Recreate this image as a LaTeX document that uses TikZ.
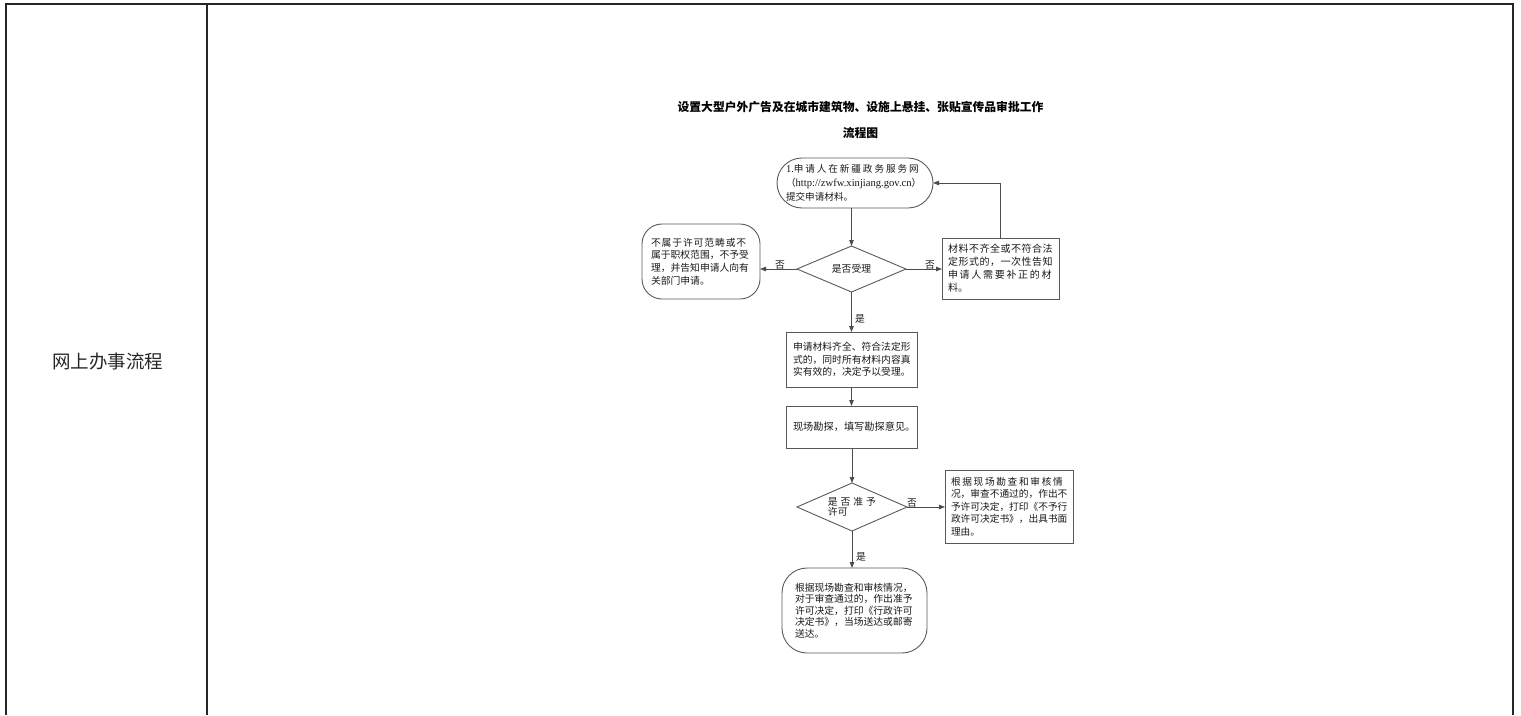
\documentclass[tikz,border=0pt]{standalone}
\usepackage{fontspec}
\setmainfont{Liberation Serif}
\newfontfamily\cjk{Noto Sans CJK SC}
\usetikzlibrary{shapes.geometric,arrows.meta}
\newcommand\lsp[2]{{\addfontfeature{LetterSpace=#1}#2}}
\begin{document}
\begin{tikzpicture}[x=1pt,y=-1pt,
  every node/.style={inner sep=0pt, outer sep=0pt},
  body/.style={font=\cjk\fontsize{9.8}{12.7}\selectfont, align=left, text=black!90},
  box/.style={draw=black!65, line width=0.9pt, body},
  dia/.style={draw=black!65, line width=0.9pt, diamond, aspect=2.37, font=\cjk\fontsize{9.8}{10.5}\selectfont, align=left, text=black!90},
  conn/.style={draw=black!70, line width=0.9pt, -{Triangle[length=6pt,width=4.5pt]}},
  lbl/.style={font=\cjk\fontsize{9.8}{12}\selectfont, text=black!90},
  rule/.style={draw=black!85, line width=1.6pt}]

\useasboundingbox (0,0) rectangle (1521,715);

% table frame
\draw[rule] (6,715) -- (6,4) -- (1513,4) -- (1513,715);
\draw[rule] (207,4) -- (207,715);

\node[font=\cjk\fontsize{18.5}{20}\selectfont, text=black!85] (side) at (107.5,362) {网上办事流程};

% title
\node[font=\cjk\bfseries\fontsize{11.8}{26}\selectfont, align=center] (title) at (860.5,120)
  {设置大型户外广告及在城市建筑物、设施上悬挂、张贴宣传品审批工作\\流程图};

% nodes
\node[box, rounded corners=25pt, text width=138pt, inner xsep=9pt, minimum height=50pt,
  font=\cjk\fontsize{9.6}{14}\selectfont] (start) at (855,183)
  {{\rmfamily\fontsize{10.5}{14}\selectfont 1.}\lsp{20}{申请人在新疆政务服务网}\\（{\rmfamily\fontsize{10.6}{14}\selectfont http://zwfw.xinjiang.gov.cn}）\\提交申请材料。};

\node[dia, minimum width=109pt, minimum height=46pt] (d1) at (851.5,269) {是否受理};

\node[box, rounded corners=20pt, text width=100pt, inner xsep=9pt, minimum height=75pt] (rej) at (701,261.5)
  {\lsp{9}{不属于许可范畴或不}\\属于职权范围，不予受\\理，并告知申请人向有\\关部门申请。};

\node[box, text width=105pt, inner xsep=6pt, minimum height=61pt,
  font=\cjk\fontsize{10}{13}\selectfont] (supp) at (1000.5,268.5)
  {\lsp{5}{材料不齐全或不符合法}\\\lsp{5}{定形式的，一次性告知}\\\lsp{17}{申请人需要补正的材}\\料。};

\node[box, text width=117pt, inner xsep=7pt, minimum height=55pt, font=\cjk\fontsize{9.8}{12.5}\selectfont] (acc) at (851.5,359.5)
  {申请材料齐全、符合法定形\\式的，同时所有材料内容真\\实有效的，决定予以受理。};

\node[box, text width=117pt, inner xsep=7pt, minimum height=42pt, font=\cjk\fontsize{10.2}{12.5}\selectfont] (survey) at (851.5,427)
  {现场勘探，填写勘探意见。};

\node[dia, minimum width=110pt, minimum height=48pt] (d2) at (852,507)
  {\lsp{30}{是否准予}\\许可};

\node[box, text width=116pt, inner xsep=6pt, minimum height=73pt, font=\cjk\fontsize{9.7}{12.5}\selectfont] (deny) at (1009,506.5)
  {\lsp{17}{根据现场勘查和审核情}\\况，审查不通过的，作出不\\予许可决定，打印《不予行\\政许可决定书》，出具书面\\理由。};

\node[box, rounded corners=25pt, text width=119pt, inner xsep=13pt, minimum height=85pt,
  font=\cjk\fontsize{9.8}{11.6}\selectfont] (grant) at (854.5,610.5)
  {根据现场勘查和审核情况，\\对于审查通过的，作出准予\\许可决定，打印《行政许可\\决定书》，当场送达或邮寄\\送达。};

% connectors
\draw[conn] (d1.north |- start.south) -- (d1.north);
\draw[conn] (d1.west) -- (d1.west -| rej.east);
\draw[conn] (d1.east) -- (d1.east -| supp.west);
\draw[conn] (supp.north) |- (start.east);
\draw[conn] (d1.south) -- (d1.south |- acc.north);
\draw[conn] (acc.south) -- (survey.north);
\draw[conn] (d2.north |- survey.south) -- (d2.north);
\draw[conn] (d2.east) -- (d2.east -| deny.west);
\draw[conn] (d2.south) -- (d2.south |- grant.north);

% labels
\node[lbl] (no1) at (780,265) {否};
\node[lbl] (no2) at (930,265) {否};
\node[lbl] (yes1) at (860,319) {是};
\node[lbl] (no3) at (912,503) {否};
\node[lbl] (yes2) at (861,557) {是};
\end{tikzpicture}
\end{document}
